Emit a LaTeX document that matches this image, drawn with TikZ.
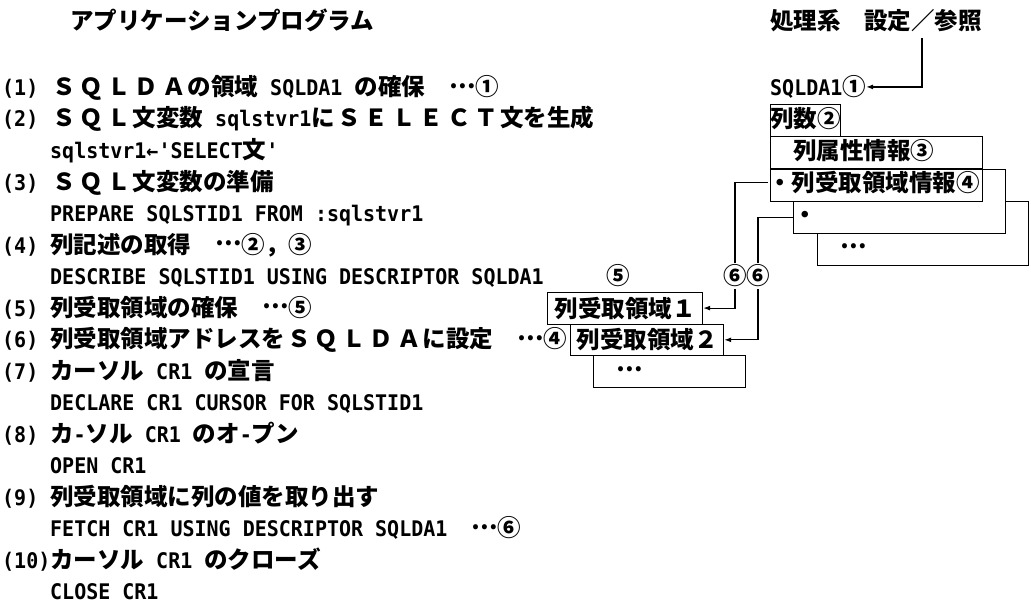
\documentclass[tikz,border=0pt]{standalone}
\usepackage{fontspec}
\setmainfont{Noto Sans CJK JP}
\newfontfamily\cdfont{DejaVu Sans Mono}[FakeStretch=0.93]
\usetikzlibrary{arrows.meta}
\newcommand\jpf{\bfseries\fontsize{23.5}{26}\selectfont}
\newcommand\cdf{\cdfont\bfseries\fontsize{21.5}{24}\selectfont}
\newcommand\cd[1]{{\cdf #1}}
\newcommand\dd{\raisebox{0.3em}{…}}
\newcommand\wl[1]{\wlx#1\relax}
\def\wlx#1{\ifx\relax#1\else\makebox[27.5pt]{#1}\expandafter\wlx\fi}
\begin{document}
\begin{tikzpicture}[x=1pt,y=-1pt,
  jp/.style={font=\jpf, inner sep=0pt, anchor=base west},
  lab/.style={font=\cdf, inner sep=0pt, anchor=base west},
  box/.style={draw, line width=1.2pt, fill=white, inner sep=0pt, font=\jpf},
  ln/.style={line width=1.2pt},
  arr/.style={line width=1.2pt, -{Latex[length=7pt,width=5pt]}},
  circ/.style={font=\jpf, inner sep=2pt}]
\useasboundingbox (0,0) rectangle (1031,607);
% titles
\node[jp] (title) at (70,29.5) {アプリケーションプログラム};
\node[jp] (hdr) at (770,29.5) {処理系　設定／参照};
% left program text
\node[lab] (n1) at (2,95.5) {(1)};
\node[jp] (l0) at (50,95.5) {\wl{ＳＱＬＤＡ}の領域\cd{~SQLDA1~}の確保\cd{~~}\dd①};
\node[lab] (n2) at (2,127) {(2)};
\node[jp] (l1) at (50,127) {\wl{ＳＱＬ}文変数\cd{~sqlstvr1}に\wl{ＳＥＬＥＣＴ}文を生成};
\node[jp] (l2) at (50,158.5) {\cd{sqlstvr1←'SELECT}文\cd{'}};
\node[lab] (n3) at (2,190) {(3)};
\node[jp] (l3) at (50,190) {\wl{ＳＱＬ}文変数の準備};
\node[lab] (l4) at (50,221.5) {PREPARE SQLSTID1 FROM :sqlstvr1};
\node[lab] (n4) at (2,253) {(4)};
\node[jp] (l5) at (50,253) {列記述の取得\cd{~~}\dd②，③};
\node[lab] (l6) at (50,284.5) {DESCRIBE SQLSTID1 USING DESCRIPTOR SQLDA1};
\node[lab] (n5) at (2,316) {(5)};
\node[jp] (l7) at (50,316) {列受取領域の確保\cd{~~}\dd⑤};
\node[lab] (n6) at (2,347.5) {(6)};
\node[jp] (l8) at (50,347.5) {列受取領域アドレスを\wl{ＳＱＬＤＡ}に設定\cd{~~}\dd④};
\node[lab] (n7) at (2,379) {(7)};
\node[jp] (l9) at (50,379) {カーソル\cd{~CR1~}の宣言};
\node[lab] (l10) at (50,410.5) {DECLARE CR1 CURSOR FOR SQLSTID1};
\node[lab] (n8) at (2,442) {(8)};
\node[jp] (l11) at (50,442) {カ\cd{-}ソル\cd{~CR1~}のオ\cd{-}プン};
\node[lab] (l12) at (50,473.5) {OPEN CR1};
\node[lab] (n9) at (2,505) {(9)};
\node[jp] (l13) at (50,505) {列受取領域に列の値を取り出す};
\node[jp] (l14) at (50,536.5) {\cd{FETCH CR1 USING DESCRIPTOR SQLDA1~~}\dd⑥};
\node[lab] (n10) at (2,568) {(10)};
\node[jp] (l15) at (50,568) {カーソル\cd{~CR1~}のクローズ};
\node[lab] (l16) at (50,599.5) {CLOSE CR1};
% right side: SQLDA structure
\node[jp] (sq) at (770,95.5) {\cd{SQLDA1}①};
\node[box, minimum width=70pt, minimum height=32pt, anchor=north west] (cnt) at (770,104) {};
\node[jp] (cntt) at (770,127.5) {列数②};
\node[box, minimum width=211pt, minimum height=64pt, anchor=north west] (c3) at (817,201) {};
\node[box, minimum width=212pt, minimum height=64pt, anchor=north west] (c2) at (793,169) {};
\node[box, minimum width=212pt, minimum height=65pt, anchor=north west] (c1) at (770,136) {};
\draw[ln] (c1.west) -- (c1.east);
\node[jp] (t3) at (793,159.5) {列属性情報③};
\node[jp] (t4) at (768,191.5) {・列受取領域情報④};
\node[jp] (t5) at (793,223.5) {・};
\node[jp] (t6) at (840,255.5) {\dd};
% receive areas
\node[box, minimum width=152pt, minimum height=32pt, anchor=north west] (b3) at (593,355) {};
\node[jp] (b3t) at (616,378.5) {\dd};
\node[box, minimum width=153pt, minimum height=31.5pt, anchor=north west] (b2) at (570,323.5) {列受取領域２};
\node[box, minimum width=155pt, minimum height=32pt, anchor=north west] (b1) at (547,291.5) {列受取領域１};
\node[circ] (c5) at (618,276) {⑤};
\node[circ] (s6a) at (735,276) {⑥};
\node[circ] (s6b) at (758,276) {⑥};
% connectors
\coordinate (tp) at (922,38);
\draw[arr] (tp) |- (sq.east);
\draw[ln] (t4.west |- t4.center) -| (s6a.north);
\draw[ln] (t5.west |- t5.center) -| (s6b.north);
\draw[arr] (s6a.south) |- (b1.east);
\draw[arr] (s6b.south) |- (b2.east);
\end{tikzpicture}
\end{document}
